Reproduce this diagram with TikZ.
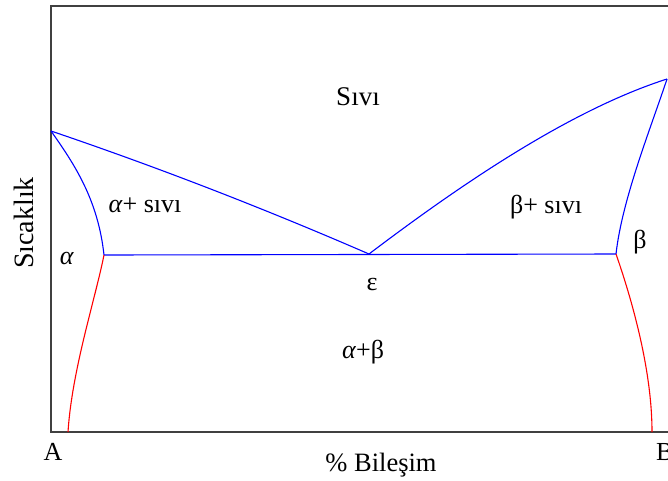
\documentclass[tikz,border=0pt]{standalone}
\usepackage{fontspec}
\setmainfont{Liberation Serif}
\usetikzlibrary{positioning}

\begin{document}
\begin{tikzpicture}[
      x=1pt, y=-1pt,
      frame/.style={draw=black!75, line width=1.4pt},
      bound/.style={blue, line width=1.1pt},
      solv/.style={red, line width=1.1pt},
      lbl/.style={anchor=base, inner sep=0pt, font=\fontsize{26}{30}\selectfont}
    ]
    \useasboundingbox (0,0) rectangle (668,480);
    \draw[frame] (690,6) -- (51,6) -- (51,432) -- (690,432);
    % melting points, eutectic and solvus ends
    \coordinate (TA) at (51,131);
    \coordinate (TB) at (667,79);
    \coordinate (E) at (369,254);
    \coordinate (SA) at (104,255);
    \coordinate (SB) at (616,254);
    \coordinate (BA) at (68,432);
    \coordinate (BB) at (652,432);
    \draw[bound] (TA) .. controls (157,167) and (263,208) .. (E);
    \draw[bound] (E) .. controls (460,185) and (570,110) .. (TB);
    \draw[bound] (TA) .. controls (75,165) and (98,200) .. (SA);
    \draw[bound] (TB) .. controls (650,130) and (622,200) .. (SB);
    \draw[bound] (SA) -- (SB);
    \draw[solv] (SA) .. controls (95,300) and (72,370) .. (BA);
    \draw[solv] (SB) .. controls (632,300) and (652,370) .. (BB);
    % phase labels
    \node[lbl, font=\fontsize{27}{30}\selectfont] (liq) at (358,105) {Sıvı};
    \node[lbl] (aliq) at (145,212) {\textit{α}+ sıvı};
    \node[lbl] (bliq) at (546,213) {β+ sıvı};
    \node[lbl] (alpha) at (67,264) {\textit{α}};
    \node[lbl] (beta) at (640,248) {β};
    \node[lbl] (eps) at (372,290) {ε};
    \node[lbl] (ab) at (363,358) {\textit{α}+β};
    \node[lbl] (A) at (53,460) {A};
    \node[lbl, anchor=base west] (B) at (656,460) {B};
    \node[lbl, font=\fontsize{26.5}{30}\selectfont] (comp) at (381,471) {\% Bileşim};
    \node[lbl, rotate=90, font=\fontsize{28}{32}\selectfont] (temp) at (33,223) {Sıcaklık};
\end{tikzpicture}
\end{document}
